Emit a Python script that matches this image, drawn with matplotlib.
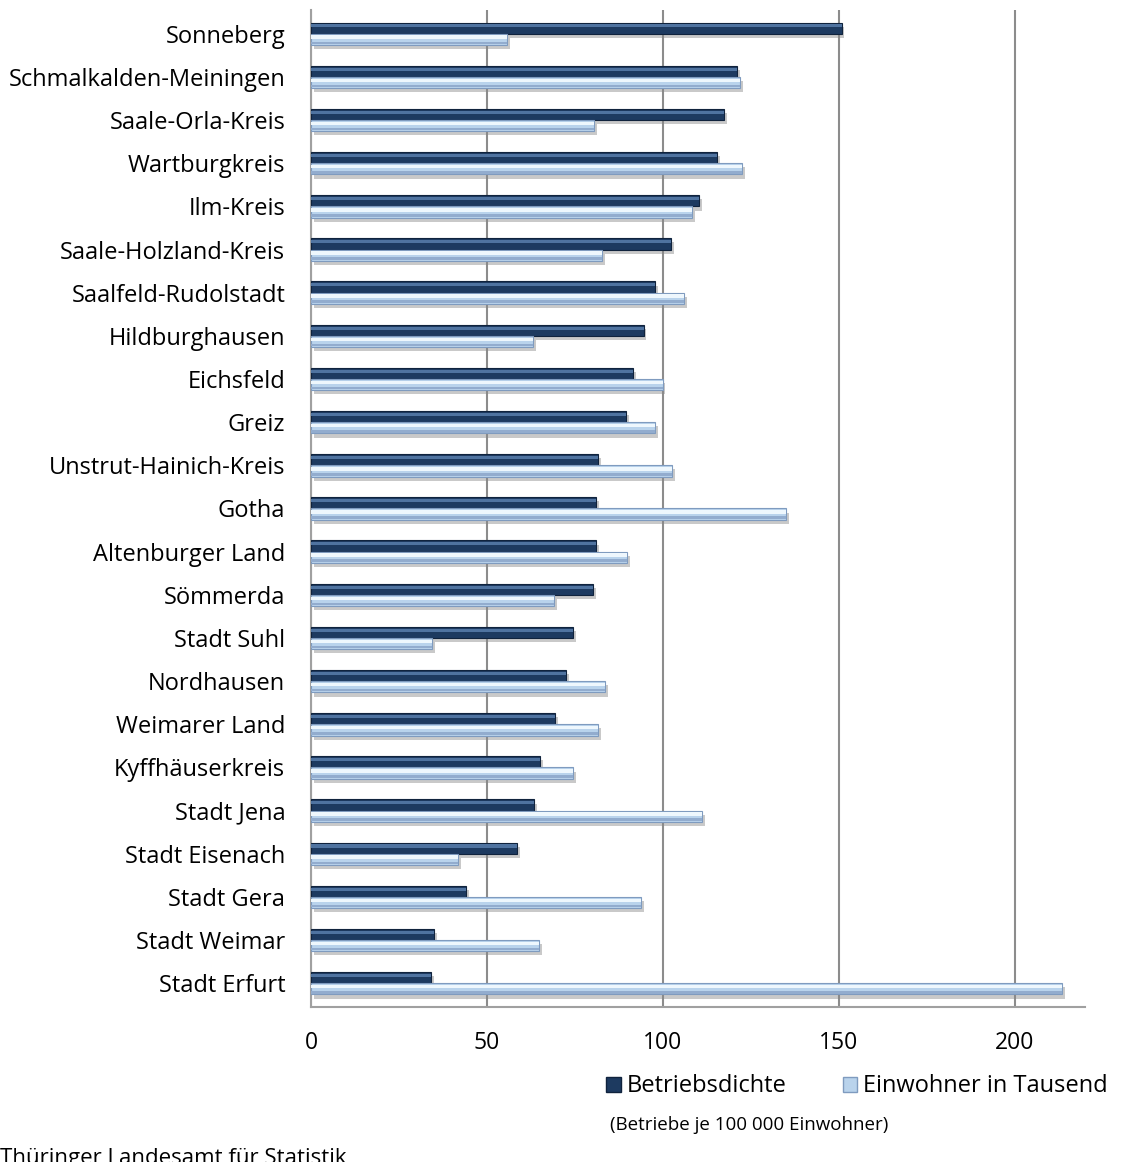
import numpy as np
import matplotlib
matplotlib.use('Agg')
import matplotlib.pyplot as plt
import matplotlib.patheffects as pe
from matplotlib.patches import Patch

# Kreise / kreisfreie Städte in Thüringen
kreise = ['Sonneberg', 'Schmalkalden-Meiningen', 'Saale-Orla-Kreis', 'Wartburgkreis',
          'Ilm-Kreis', 'Saale-Holzland-Kreis', 'Saalfeld-Rudolstadt', 'Hildburghausen',
          'Eichsfeld', 'Greiz', 'Unstrut-Hainich-Kreis', 'Gotha', 'Altenburger Land',
          'Sömmerda', 'Stadt Suhl', 'Nordhausen', 'Weimarer Land', 'Kyffhäuserkreis',
          'Stadt Jena', 'Stadt Eisenach', 'Stadt Gera', 'Stadt Weimar', 'Stadt Erfurt']

# Betriebe je 100 000 Einwohner
betriebsdichte = [150.8, 121.2, 117.5, 115.5, 110.4, 102.4, 97.9, 94.5, 91.6, 89.6,
                  81.7, 81.1, 81.1, 80.2, 74.5, 72.5, 69.4, 65.1, 63.4, 58.6,
                  44.1, 35.0, 34.1]

# Einwohner in Tausend
einwohner = [55.8, 122.0, 80.5, 122.6, 108.4, 82.8, 106.1, 63.2, 99.9, 97.9,
             102.7, 135.1, 89.9, 69.1, 34.4, 83.6, 81.7, 74.5, 111.2, 41.8,
             93.9, 64.9, 213.5]

plt.rcParams['font.family'] = ['Open Sans', 'DejaVu Sans']

fig = plt.figure(figsize=(11.21, 11.62), dpi=100)
ax = fig.add_axes([0.2774, 0.1334, 0.6906, 0.858])

y = np.arange(len(kreise))
h = 0.26
schatten = [pe.SimplePatchShadow(offset=(2, -3), shadow_rgbFace='#888888', alpha=0.45), pe.Normal()]

dunkel = '#1d3a60'
hell = '#b9d3ec'

ax.barh(y - h / 2, betriebsdichte, height=h, color=dunkel, edgecolor='#10233d',
        linewidth=0.8, zorder=3, path_effects=schatten)
ax.barh(y + h / 2, einwohner, height=h, color=hell, edgecolor='#7f9bbf',
        linewidth=0.8, zorder=3, path_effects=schatten)
# Glanzkante oben
ax.barh(y - h / 2 - 0.05, betriebsdichte, height=0.07, color='#4f73a0', linewidth=0, zorder=4)
ax.barh(y + h / 2 - 0.05, einwohner, height=0.08, color='#eef7fd', linewidth=0, zorder=4)
ax.barh(y + h / 2 + 0.08, einwohner, height=0.06, color='#92acce', linewidth=0, zorder=4)

ax.set_xlim(0, 220)
ax.set_ylim(len(kreise) - 0.45, -0.55)
ax.set_yticks(y)
ax.set_yticklabels(kreise, fontsize=17)
ax.set_xticks([0, 50, 100, 150, 200])
ax.set_xticklabels(['0', '50', '100', '150', '200'], fontsize=16.5)
ax.tick_params(axis='both', length=0)
ax.tick_params(axis='y', pad=18.5)
ax.tick_params(axis='x', pad=17)

ax.xaxis.grid(True, color='#8c8c8c', linewidth=1.5, zorder=0)
ax.set_axisbelow(True)
for s in ['top', 'right']:
    ax.spines[s].set_visible(False)
ax.spines['left'].set_color('#a0a0a0')
ax.spines['bottom'].set_color('#a0a0a0')
ax.spines['left'].set_linewidth(1.5)
ax.spines['bottom'].set_linewidth(1.5)

handles = [Patch(facecolor=dunkel, edgecolor='#10233d'), Patch(facecolor=hell, edgecolor='#7f9bbf')]
fig.legend(handles, ['Betriebsdichte', 'Einwohner in Tausend'], ncol=2, frameon=False,
           fontsize=17, loc='center left', bbox_to_anchor=(0.541, 0.065),
           handlelength=0.6, handleheight=0.6, handletextpad=0.25, columnspacing=2.4,
           borderaxespad=0, borderpad=0)
fig.text(0.544, 0.032, '(Betriebe je 100 000 Einwohner)', fontsize=13.5, va='center', ha='left')
fig.text(0.0, 0.012, 'Thüringer Landesamt für Statistik', fontsize=16, va='top', ha='left')

fig.savefig('out.png', dpi=100)
